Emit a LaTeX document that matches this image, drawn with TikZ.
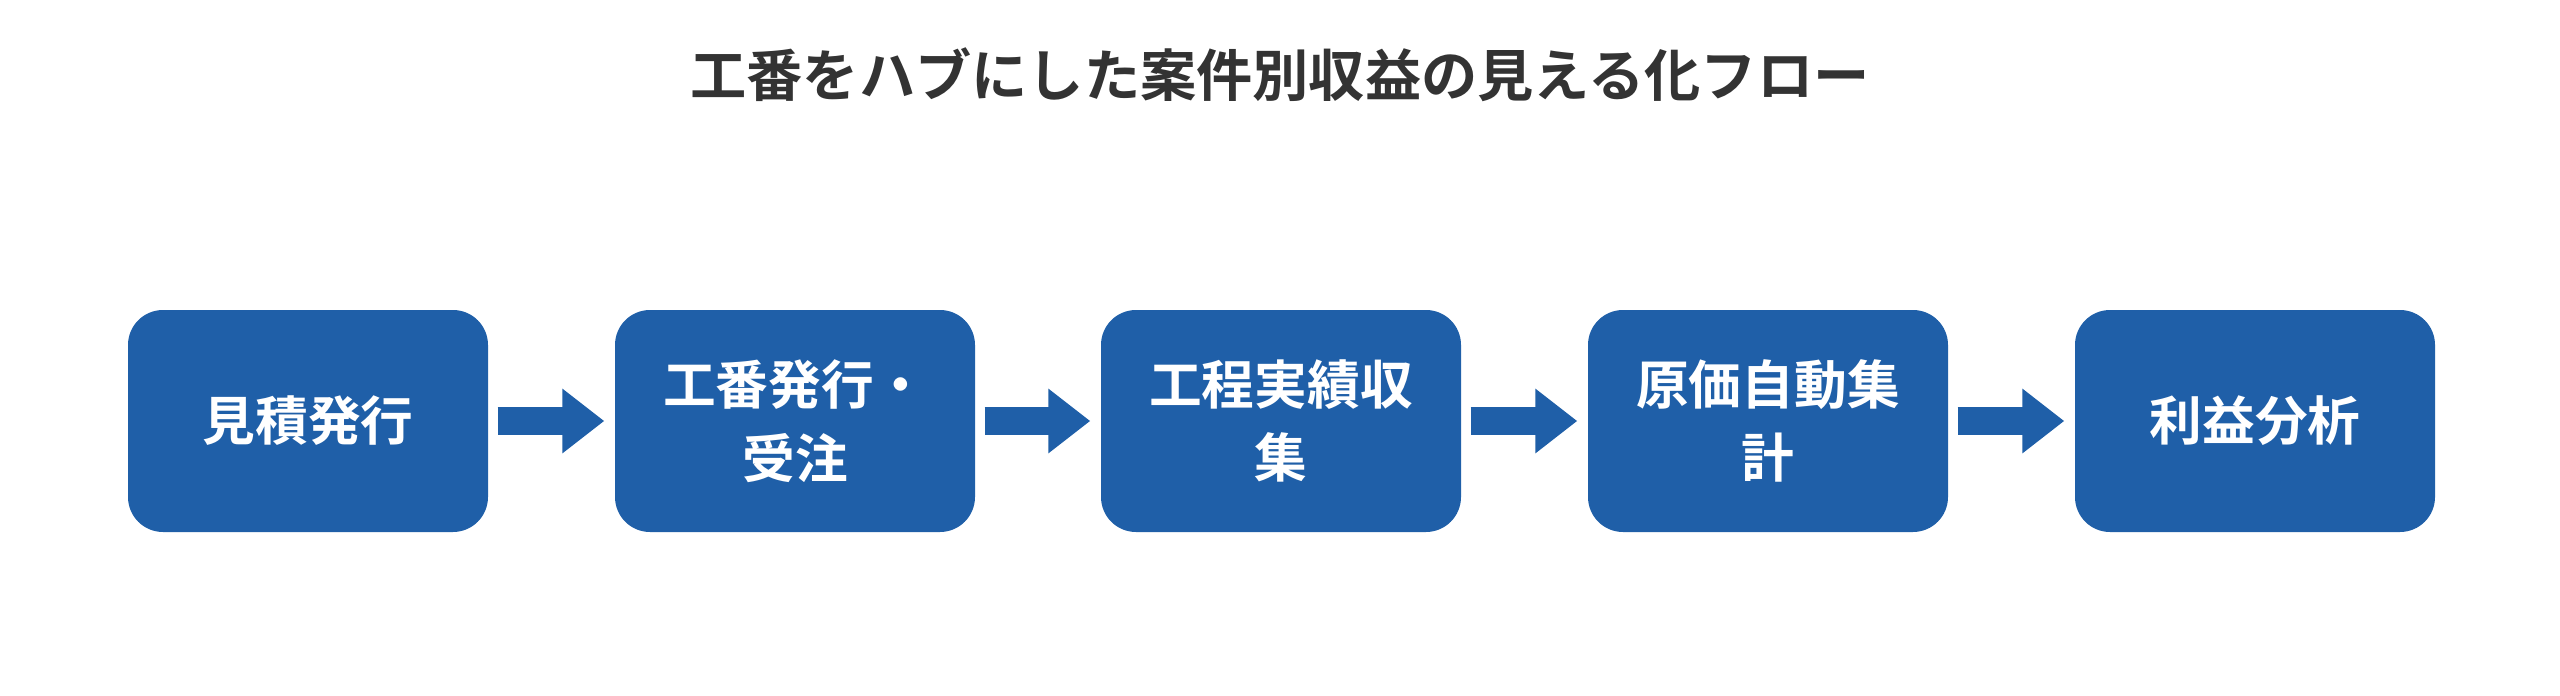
\documentclass[tikz,border=0pt]{standalone}
\usepackage{fontspec}
\setmainfont{Noto Sans CJK JP}[BoldFont=* Bold]
\usetikzlibrary{arrows.meta}
\definecolor{stepblue}{HTML}{1F5FA8}
\tikzset{
  stage/.style={fill=stepblue, rounded corners=0.35cm, minimum width=3.6cm, minimum height=2.22cm,
    text=white, font=\fontsize{15}{21}\selectfont\bfseries, align=center, inner sep=0pt},
  flow/.style={draw=stepblue, line width=0.28cm, shorten <=0.09cm, shorten >=0.1cm,
    -{Triangle[length=0.42cm,width=0.62cm]}}
}
\begin{document}
\begin{tikzpicture}
  \useasboundingbox (0,0) rectangle (25.6,6.95);
  \node (title) at (12.8,6.2) {\fontsize{16}{20}\selectfont\bfseries\color[HTML]{333333}工番をハブにした案件別収益の見える化フロー};
  \node[stage] (quote) at (3.08,2.74) {見積発行};
  \node[stage] (order) at (7.95,2.74) {工番発行・\\受注};
  \node[stage] (actual) at (12.81,2.74) {工程実績収\\集};
  \node[stage] (cost) at (17.68,2.74) {原価自動集\\計};
  \node[stage] (profit) at (22.55,2.74) {利益分析};
  \foreach \a/\b in {quote/order, order/actual, actual/cost, cost/profit}
    \draw[flow] (\a) -- (\b);
\end{tikzpicture}
\end{document}
